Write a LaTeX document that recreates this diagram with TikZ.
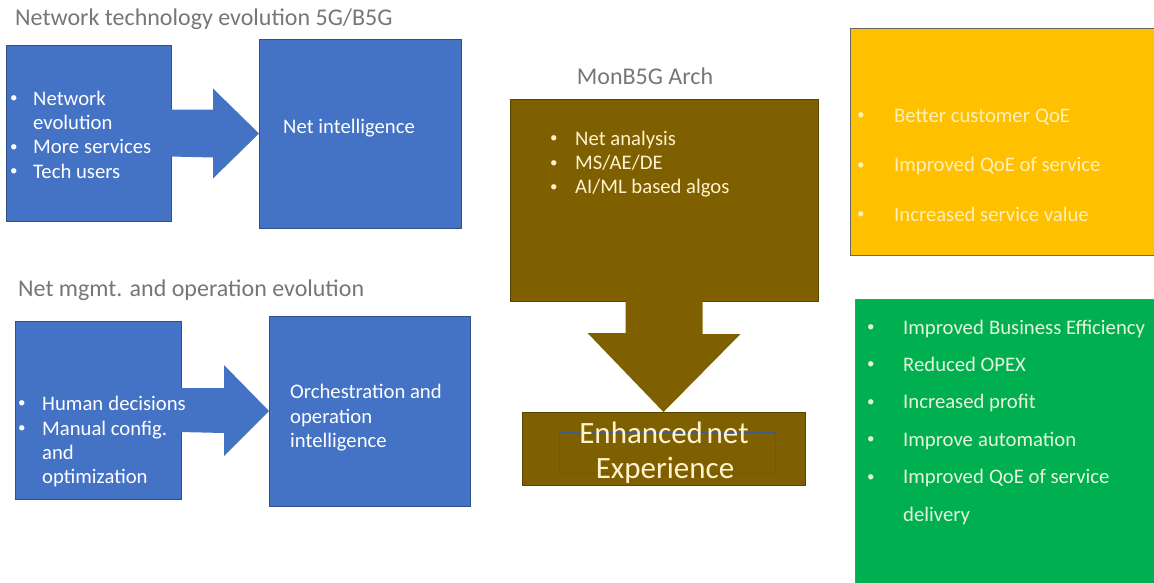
\documentclass[tikz,border=0pt]{standalone}
\usepackage{fontspec}
\setmainfont{Carlito}
\usetikzlibrary{calc}
\definecolor{boxblue}{HTML}{4472C4}
\definecolor{edgeblue}{HTML}{2F528F}
\definecolor{archbrown}{HTML}{7F6000}
\definecolor{gainyellow}{HTML}{FFC000}
\definecolor{gaingreen}{HTML}{00B050}
\definecolor{titlegray}{HTML}{767676}
\definecolor{cream}{HTML}{FFF2CC}
\definecolor{paleyellow}{HTML}{FFF0B8}
\definecolor{palegreen}{HTML}{E6F4DC}
% small list bullet and a double word space
\newcommand\dotmark{\raisebox{0.12em}{\fontsize{15}{15}\selectfont\textbullet}}
\newcommand\wsp{\hspace{0.25em}}
\tikzset{
  panel/.style={draw=#1!70!black, line width=0.8pt, inner sep=0pt, outer sep=0pt},
  bluebox/.style={panel=boxblue, fill=boxblue},
  brownbox/.style={panel=archbrown, fill=archbrown},
  heading/.style={anchor=base west, inner sep=0pt, text=titlegray, font=\fontsize{24}{28}\selectfont},
  item/.style={anchor=base west, inner sep=0pt, font=\fontsize{#1}{#1}\selectfont},
  item/.default=20.7,
}
\begin{document}
\begin{tikzpicture}[x=1pt,y=-1pt]
\useasboundingbox (0,0) rectangle (1154,582);

% headings
\node[heading] (t1) at (15,25) {Network technology evolution 5G/B5G};
\node[heading] (t2) at (18,296.5) {Net mgmt. and operation evolution};
\node[heading, anchor=base] (t3) at (645,84) {MonB5G Arch};

% network technology row
\node[bluebox, minimum width=165pt, minimum height=176pt] (a1) at (88.5,133) {};
\node[bluebox, minimum width=202pt, minimum height=189pt] (b1) at (360,133.5) {};
\fill[boxblue] ($(a1.east)+(-1,-23.5)$) -- ++(43,0) -- ++(0,-21) -- (b1.west)
  -- ++(-46,45) -- ++(0,-21) -- ($(a1.east)+(-1,23.5)$) -- cycle;
\begin{scope}[every node/.style={item, text=white}]
  \node (a1i) at (10,105) {\dotmark};
  \node (a1a) at (33,105) {Network};
  \node (a1b) at (33,129.5) {evolution};
  \node (a1j) at (10,153.5) {\dotmark};
  \node (a1c) at (33,153.5) {More\wsp services};
  \node (a1k) at (10,178) {\dotmark};
  \node (a1d) at (33,178) {Tech users};
  \node (b1a) at (283,133) {Net intelligence};
\end{scope}

% management and operation row
\node[bluebox, minimum width=166pt, minimum height=178pt] (a2) at (98,410) {};
\node[bluebox, minimum width=201pt, minimum height=190pt] (b2) at (369.5,411) {};
\fill[boxblue] ($(a2.east)+(-1,-22)$) -- ++(44,0) -- ++(0,-23) -- (b2.west)
  -- ++(-45,45) -- ++(0,-23) -- ($(a2.east)+(-1,22)$) -- cycle;
\begin{scope}[every node/.style={item, text=white}]
  \node (a2i) at (18,410) {\dotmark};
  \node (a2a) at (42,410) {Human\wsp decisions};
  \node (a2j) at (18,435) {\dotmark};
  \node (a2b) at (42,435) {Manual config.};
  \node (a2c) at (42,459) {and};
  \node (a2d) at (42,483.5) {optimization};
  \node (b2a) at (290,398) {Orchestration and};
  \node (b2b) at (290,423) {operation};
  \node (b2c) at (290,447) {intelligence};
\end{scope}

% architecture column
\node[brownbox, minimum width=308pt, minimum height=202pt] (m) at (664,200) {};
\node[brownbox, minimum width=283pt, minimum height=73pt] (e) at (663.5,448.5) {};
\fill[archbrown] ($(m.south)+(-38.5,-1)$) -- ++(0,33) -- ++(-38,0) -- (e.north)
  -- ++(77,-78) -- ++(-38,0) -- ($(m.south)+(38.5,-1)$) -- cycle;
\node[draw=edgeblue!80!gray, line width=0.6pt, minimum width=216pt, minimum height=41pt,
      inner sep=0pt] (ein) at (667,452.5) {};
\begin{scope}[every node/.style={item, text=cream}]
  \node (mi) at (550,145) {\dotmark};
  \node (ma) at (575,145) {Net analysis};
  \node (mj) at (550,169.5) {\dotmark};
  \node (mb) at (575,169.5) {MS/AE/DE};
  \node (mk) at (550,193.5) {\dotmark};
  \node (mc) at (575,193.5) {AI/ML based algos};
\end{scope}
\node[item=31, anchor=base, text=cream] (ea) at (664,443) {Enhanced\hspace{0.12em}net};
\node[item=31, anchor=base, text=cream] (eb) at (665,478) {Experience};

% customer gains
\node[panel=gray, draw=gray!80!black, fill=gainyellow, minimum width=310pt, minimum height=227pt] (y) at (1005,141.5) {};
\begin{scope}[every node/.style={item, text=paleyellow}]
  \node (yi) at (857,122) {\dotmark};
  \node (ya) at (894,122) {Better customer\wsp QoE};
  \node (yj) at (857,171.5) {\dotmark};
  \node (yb) at (894,171.5) {Improved\wsp QoE of service};
  \node (yk) at (857,221) {\dotmark};
  \node (yc) at (894,221) {Increased service value};
\end{scope}

% operator gains
\node[panel=gray, draw=gray!70!gaingreen, fill=gaingreen, minimum width=305pt, minimum height=291pt] (g) at (1007.5,444.5) {};
\begin{scope}[every node/.style={item, text=palegreen}]
  \node (gi) at (867,334) {\dotmark};
  \node (ga) at (903,334) {Improved\wsp Business Efficiency};
  \node (gj) at (867,371) {\dotmark};
  \node (gb) at (903,371) {Reduced OPEX};
  \node (gk) at (867,408.5) {\dotmark};
  \node (gc) at (903,408.5) {Increased profit};
  \node (gl) at (867,446) {\dotmark};
  \node (gd) at (903,446) {Improve\wsp automation};
  \node (gm) at (867,483.5) {\dotmark};
  \node (ge) at (903,483.5) {Improved\wsp QoE of service};
  \node (gf) at (903,521) {delivery};
\end{scope}
\end{tikzpicture}
\end{document}
